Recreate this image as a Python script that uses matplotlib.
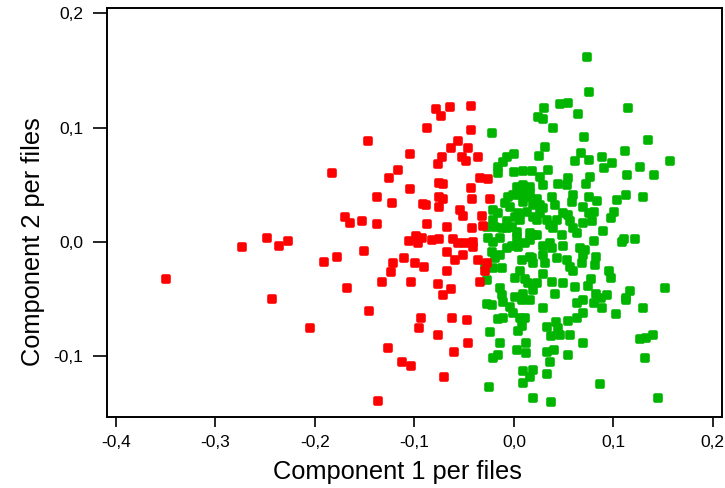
import matplotlib
matplotlib.use('Agg')
import matplotlib.pyplot as plt
from matplotlib.markers import MarkerStyle
from matplotlib.ticker import FuncFormatter

# Component scores, first cluster (red)
red_x = [-0.350, -0.273, -0.248, -0.236, -0.227, -0.243, -0.205, -0.191, -0.178, -0.183,
         -0.170, -0.165, -0.153, -0.168, -0.147, -0.151, -0.146, -0.137, -0.138, -0.138,
         -0.124, -0.127, -0.123, -0.126, -0.116, -0.104, -0.104, -0.087, -0.078, -0.073,
         -0.064, -0.043, -0.043, -0.056, -0.063, -0.046, -0.072, -0.076, -0.052, -0.048,
         -0.036, -0.075, -0.071, -0.034, -0.026, -0.043, -0.075, -0.071, -0.075, -0.091,
         -0.088, -0.042, -0.024, -0.087, -0.067, -0.054, -0.051, -0.032, -0.031, -0.042,
         -0.098, -0.105, -0.096, -0.092, -0.082, -0.075, -0.061, -0.056, -0.049, -0.041,
         -0.041, -0.067, -0.110, -0.099, -0.090, -0.122, -0.059, -0.051, -0.036, -0.027,
         -0.029, -0.067, -0.133, -0.103, -0.076, -0.034, -0.063, -0.071, -0.093, -0.095,
         -0.062, -0.047, -0.076, -0.046, -0.060, -0.112, -0.103, -0.070]
red_y = [-0.032, -0.004, 0.004, -0.003, 0.001, -0.050, -0.075, -0.017, -0.013, 0.060,
         0.022, 0.017, 0.018, -0.040, 0.088, -0.008, -0.060, -0.139, 0.039, 0.016,
         -0.026, -0.093, 0.034, 0.056, 0.063, 0.077, 0.046, 0.100, 0.116, 0.110,
         0.118, 0.119, 0.098, 0.088, 0.082, 0.082, 0.074, 0.068, 0.074, 0.071,
         0.074, 0.052, 0.051, 0.056, 0.055, 0.047, 0.039, 0.038, 0.031, 0.033,
         0.032, 0.038, 0.038, 0.016, 0.013, 0.028, 0.023, 0.023, 0.014, 0.012,
         0.005, 0.001, -0.001, 0.004, 0.002, 0.003, 0.003, -0.001, -0.001, 0.000,
         -0.004, -0.009, -0.014, -0.018, -0.022, -0.018, -0.016, -0.011, -0.016, -0.018,
         -0.025, -0.025, -0.035, -0.035, -0.037, -0.035, -0.041, -0.046, -0.066, -0.075,
         -0.066, -0.068, -0.081, -0.088, -0.096, -0.105, -0.108, -0.118]

# Component scores, second cluster (green)
green_x = [-0.022, 0.073, 0.075, 0.030, 0.046, 0.054, 0.064, 0.024, 0.029, 0.115,
           0.039, 0.070, 0.135, 0.031, 0.025, 0.067, 0.112, 0.061, 0.075, 0.089,
           0.099, 0.091, 0.157, 0.127, 0.018, 0.034, 0.114, 0.141, 0.026, 0.029,
           0.054, 0.053, 0.044, 0.077, 0.072, 0.000, -0.007, -0.011, -0.016, -0.016,
           0.000, 0.009, 0.003, 0.009, 0.016, 0.011, -0.001, 0.014, 0.006, 0.009,
           -0.006, -0.009, -0.004, 0.023, 0.026, 0.029, 0.038, 0.041, -0.021, -0.016,
           0.004, 0.001, 0.013, 0.019, 0.006, -0.021, -0.019, -0.007, -0.007, 0.023,
           0.033, 0.036, 0.043, 0.016, 0.019, 0.059, 0.058, 0.076, 0.084, 0.104,
           0.113, 0.130, 0.069, 0.076, 0.081, 0.079, 0.069, 0.026, 0.049, 0.054,
           0.056, 0.039, 0.098, 0.101, 0.059, 0.063, 0.090, 0.048, 0.019, 0.081,
           0.109, 0.111, 0.122, 0.029, 0.036, 0.038, 0.049, 0.066, 0.071, 0.069,
           0.016, 0.019, 0.031, 0.053, 0.056, 0.068, 0.083, 0.082, 0.059, 0.096,
           0.098, 0.029, 0.078, 0.049, 0.023, 0.061, 0.074, 0.117, 0.113, 0.083,
           0.094, 0.088, 0.152, 0.041, 0.069, 0.063, 0.081, 0.016, 0.029, 0.130,
           0.089, 0.103, 0.113, 0.042, 0.044, 0.046, 0.033, 0.037, 0.054, 0.063,
           0.069, 0.056, 0.069, 0.127, 0.133, 0.140, 0.033, 0.040, 0.054, 0.132,
           0.036, 0.019, 0.016, 0.033, 0.087, 0.019, 0.037, 0.145, -0.027, -0.022,
           -0.011, -0.004, -0.001, 0.006, 0.011, -0.016, -0.011, 0.008, 0.004, -0.024,
           -0.014, -0.021, -0.016, 0.003, 0.012, 0.012, 0.009, 0.009, -0.025, -0.027,
           -0.012, -0.002, 0.003, 0.016, 0.023, -0.026, -0.021, -0.014, -0.007, -0.002,
           0.003, 0.004, 0.011, 0.016, -0.022, -0.019, -0.014, 0.008, 0.018, 0.029,
           0.043, -0.027, -0.021, -0.012, 0.006, 0.001, 0.011, 0.014, 0.019, 0.038,
           -0.027, -0.014, -0.012, 0.001, 0.009, 0.008, -0.029]
green_y = [0.095, 0.162, 0.131, 0.117, 0.121, 0.122, 0.112, 0.109, 0.108, 0.117,
           0.100, 0.092, 0.089, 0.083, 0.075, 0.078, 0.080, 0.071, 0.072, 0.074,
           0.069, 0.065, 0.071, 0.066, 0.062, 0.063, 0.059, 0.059, 0.057, 0.050,
           0.056, 0.050, 0.051, 0.057, 0.051, 0.077, 0.074, 0.070, 0.066, 0.060,
           0.061, 0.062, 0.048, 0.050, 0.048, 0.047, 0.041, 0.039, 0.041, 0.035,
           0.039, 0.034, 0.031, 0.038, 0.032, 0.030, 0.039, 0.032, 0.028, 0.025,
           0.025, 0.022, 0.026, 0.022, 0.019, 0.019, 0.013, 0.018, 0.012, 0.019,
           0.019, 0.015, 0.019, 0.043, 0.032, 0.041, 0.035, 0.039, 0.036, 0.037,
           0.041, 0.039, 0.031, 0.025, 0.026, 0.018, 0.017, 0.025, 0.025, 0.024,
           0.018, 0.012, 0.021, 0.026, 0.012, 0.008, 0.010, 0.006, 0.006, 0.001,
           0.000, 0.003, 0.003, -0.003, -0.001, -0.005, -0.003, -0.005, -0.007, -0.011,
           -0.013, -0.018, -0.018, -0.016, -0.022, -0.018, -0.013, -0.020, -0.025, -0.025,
           -0.031, -0.028, -0.032, -0.036, -0.036, -0.039, -0.038, -0.043, -0.049, -0.045,
           -0.046, -0.049, -0.040, -0.045, -0.051, -0.053, -0.053, -0.051, -0.058, -0.058,
           -0.058, -0.063, -0.051, -0.070, -0.075, -0.081, -0.074, -0.082, -0.069, -0.066,
           -0.062, -0.081, -0.088, -0.085, -0.084, -0.081, -0.096, -0.094, -0.099, -0.101,
           -0.105, -0.112, -0.118, -0.115, -0.124, -0.136, -0.140, -0.136, -0.054, -0.055,
           -0.052, -0.057, -0.062, -0.066, -0.066, -0.067, -0.066, -0.073, -0.078, -0.079,
           -0.088, -0.101, -0.099, -0.094, -0.088, -0.097, -0.113, -0.123, -0.127, 0.013,
           0.012, 0.013, 0.009, 0.008, 0.006, 0.004, 0.000, 0.004, -0.005, -0.003,
           0.004, -0.004, -0.001, 0.002, -0.009, -0.014, -0.011, -0.016, -0.014, -0.011,
           -0.014, -0.022, -0.023, -0.023, -0.025, -0.031, -0.032, -0.036, -0.042, -0.035,
           -0.033, -0.040, -0.046, -0.048, -0.045, -0.051, -0.020]

x_ticks = [-0.4, -0.3, -0.2, -0.1, 0.0, 0.1, 0.2]
y_ticks = [-0.1, 0.0, 0.1, 0.2]

plt.rcParams['font.family'] = ['Liberation Sans', 'DejaVu Sans']

fig = plt.figure(figsize=(7.25, 4.88), dpi=100)
ax = fig.add_axes([0.1476, 0.1455, 0.848, 0.838])

# rounded square markers
marker = MarkerStyle('s', joinstyle='round')
ax.plot(green_x, green_y, linestyle='none', marker=marker, markersize=4.8,
        markerfacecolor='#00b400', markeredgecolor='#00b400', markeredgewidth=2.6)
ax.plot(red_x, red_y, linestyle='none', marker=marker, markersize=4.8,
        markerfacecolor='#ff0000', markeredgecolor='#ff0000', markeredgewidth=2.6)

ax.set_xlim(-0.409, 0.209)
ax.set_ylim(-0.153, 0.2047)
ax.set_xticks(x_ticks)
ax.set_yticks(y_ticks)
comma = FuncFormatter(lambda v, pos: f"{v:.1f}".replace('.', ',').replace('-0,0', '0,0'))
ax.xaxis.set_major_formatter(comma)
ax.yaxis.set_major_formatter(comma)
ax.tick_params(axis='x', direction='out', length=7, width=1.2, pad=6, labelsize=12.5)
ax.tick_params(axis='y', direction='out', length=10, width=1.2, pad=7, labelsize=12.5)
for s in ax.spines.values():
    s.set_linewidth(1.4)

ax.set_xlabel("Component 1 per files", fontsize=18.3)
ax.set_ylabel("Component 2 per files", fontsize=18.3)
ax.xaxis.set_label_coords(0.472, -0.105)
ax.yaxis.set_label_coords(-0.101, 0.428)

plt.savefig('out.png', dpi=100)
